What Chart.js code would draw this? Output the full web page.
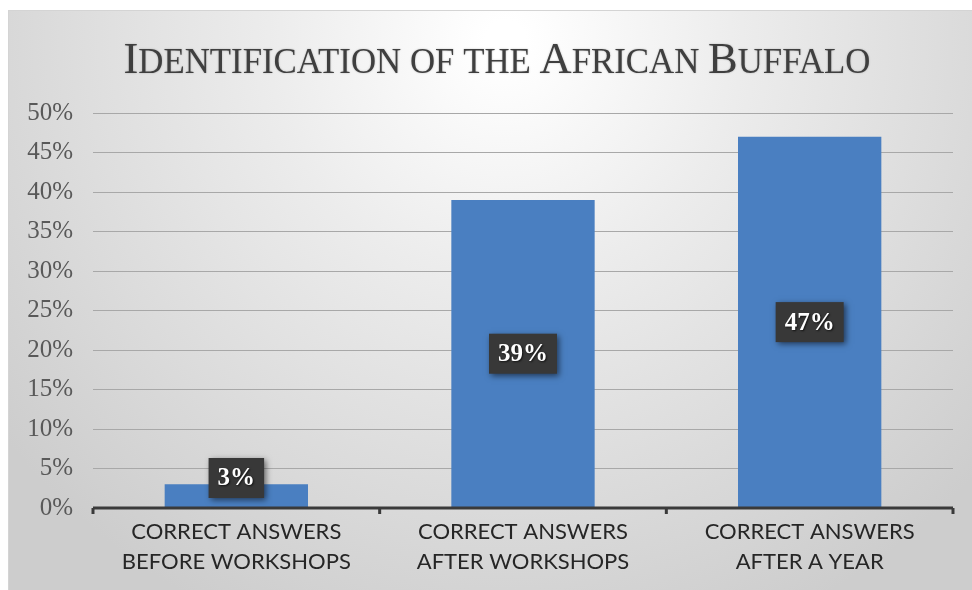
<!DOCTYPE html>
<html>
<head>
<meta charset="utf-8">
<script src="https://cdn.jsdelivr.net/npm/chart.js@4.4.1/dist/chart.umd.min.js"></script>
<style>
html,body{margin:0;padding:0;background:#fff;}
#wrap{width:972px;height:590px;position:relative;}
</style>
</head>
<body>
<div id="wrap"><canvas id="c" width="972" height="590"></canvas></div>
<script>
const chartTitle = 'Identification of the African Buffalo';
const categories = [
  ['CORRECT ANSWERS', 'BEFORE WORKSHOPS'],
  ['CORRECT ANSWERS', 'AFTER WORKSHOPS'],
  ['CORRECT ANSWERS', 'AFTER A YEAR']
];
const values = [3, 39, 47];
const dataLabels = ['3%', '39%', '47%'];
const yMin = 0, yMax = 50, yStep = 5;

const bgPlugin = {
  id: 'bg',
  beforeDraw(chart) {
    const ctx = chart.ctx, W = chart.width, H = chart.height;
    ctx.save();
    ctx.fillStyle = '#ffffff';
    ctx.fillRect(0, 0, W, H);
    const g = ctx.createRadialGradient(W * 0.52, 40, 20, W * 0.52, 40, 640);
    g.addColorStop(0, '#ffffff');
    g.addColorStop(0.35, '#ececec');
    g.addColorStop(1, '#cdcdcd');
    ctx.fillStyle = g;
    ctx.fillRect(8, 10, W - 8, H - 10);
    ctx.strokeStyle = '#d4d4d4';
    ctx.lineWidth = 1;
    ctx.strokeRect(8.5, 10.5, W - 8, H - 10);
    ctx.restore();
  }
};

// Title drawn in small caps (first letter of each word large, rest smaller capitals)
const titlePlugin = {
  id: 'smallCapsTitle',
  afterDraw(chart) {
    const ctx = chart.ctx;
    const big = 46, small = Math.round(46 * 0.78);
    const fam = '"Liberation Serif", serif';
    const parts = [];
    chartTitle.split(' ').forEach((w, wi) => {
      if (wi > 0) parts.push({ t: ' ', s: small });
      const first = w.charAt(0), rest = w.slice(1);
      const firstIsUpper = first === first.toUpperCase();
      parts.push({ t: first.toUpperCase(), s: firstIsUpper ? big : small });
      if (rest) parts.push({ t: rest.toUpperCase(), s: small });
    });
    ctx.save();
    let total = 0;
    parts.forEach(p => { ctx.font = p.s + 'px ' + fam; p.w = ctx.measureText(p.t).width; total += p.w; });
    const targetW = 747;
    const k = targetW / total;
    let x = 497 - targetW / 2;
    const baseY = 73;
    ctx.fillStyle = '#3f3f3f';
    ctx.textBaseline = 'alphabetic';
    ctx.textAlign = 'left';
    ctx.shadowColor = 'rgba(0,0,0,0.25)';
    ctx.shadowBlur = 2;
    parts.forEach(p => {
      ctx.font = (p.s * k).toFixed(2) + 'px ' + fam;
      ctx.fillText(p.t, x, baseY);
      x += p.w * k;
    });
    ctx.restore();
  }
};

const axisPlugin = {
  id: 'axisLine',
  afterDatasetsDraw(chart) {
    const ctx = chart.ctx, x = chart.scales.x, y = chart.scales.y;
    const y0 = y.getPixelForValue(0);
    ctx.save();
    ctx.strokeStyle = '#3a3a3a';
    ctx.lineWidth = 3;
    ctx.beginPath();
    ctx.moveTo(x.left, y0);
    ctx.lineTo(x.right, y0);
    const n = categories.length;
    for (let i = 0; i <= n; i++) {
      const px = x.left + (x.right - x.left) * i / n;
      ctx.moveTo(px, y0);
      ctx.lineTo(px, y0 + 6);
    }
    ctx.stroke();
    ctx.restore();
  }
};

const labelPlugin = {
  id: 'boxLabels',
  afterDatasetsDraw(chart) {
    const ctx = chart.ctx;
    const meta = chart.getDatasetMeta(0);
    const y0 = chart.scales.y.getPixelForValue(0);
    ctx.save();
    ctx.font = 'bold 25px "Liberation Serif", serif';
    ctx.textAlign = 'center';
    ctx.textBaseline = 'middle';
    meta.data.forEach((bar, i) => {
      const txt = dataLabels[i];
      const cx = bar.x;
      let cy = (bar.y + bar.base) / 2;
      const bh = 40;
      if (cy > y0 - 30) cy = y0 - 30;
      const tw = ctx.measureText(txt).width;
      const bw = tw + 18;
      ctx.shadowColor = 'rgba(0,0,0,0.55)';
      ctx.shadowBlur = 6;
      ctx.shadowOffsetX = 2;
      ctx.shadowOffsetY = 2;
      ctx.fillStyle = '#383838';
      ctx.fillRect(cx - bw / 2, cy - bh / 2, bw, bh);
      ctx.shadowColor = 'rgba(0,0,0,0.7)';
      ctx.shadowBlur = 2;
      ctx.shadowOffsetX = 1;
      ctx.shadowOffsetY = 1;
      ctx.fillStyle = '#ffffff';
      ctx.fillText(txt, cx, cy + 1);
    });
    ctx.restore();
  }
};

new Chart(document.getElementById('c'), {
  type: 'bar',
  data: {
    labels: categories,
    datasets: [{
      data: values,
      backgroundColor: '#4a7fc1',
      borderWidth: 0,
      categoryPercentage: 1.0,
      barPercentage: 0.5
    }]
  },
  options: {
    responsive: false,
    animation: false,
    devicePixelRatio: 1,
    layout: { padding: { left: 0, right: 19, top: 113, bottom: 0 } },
    plugins: {
      legend: { display: false },
      tooltip: { enabled: false },
      title: { display: false }
    },
    scales: {
      x: {
        grid: { display: false, drawTicks: false },
        border: { display: false },
        ticks: {
          color: '#262626',
          padding: 9,
          font: { family: 'Lato, sans-serif', size: 22, lineHeight: 1.36 }
        },
        afterFit(s) { s.height = 82; }
      },
      y: {
        min: yMin, max: yMax,
        grid: { color: '#a8a8a8', lineWidth: 1, drawTicks: false },
        border: { display: false },
        ticks: {
          stepSize: yStep,
          color: '#595959',
          padding: 20,
          font: { family: '"Liberation Serif", serif', size: 25 },
          callback: v => v + '%'
        },
        afterFit(s) { s.width = 93; }
      }
    }
  },
  plugins: [bgPlugin, titlePlugin, axisPlugin, labelPlugin]
});
</script>
</body>
</html>
